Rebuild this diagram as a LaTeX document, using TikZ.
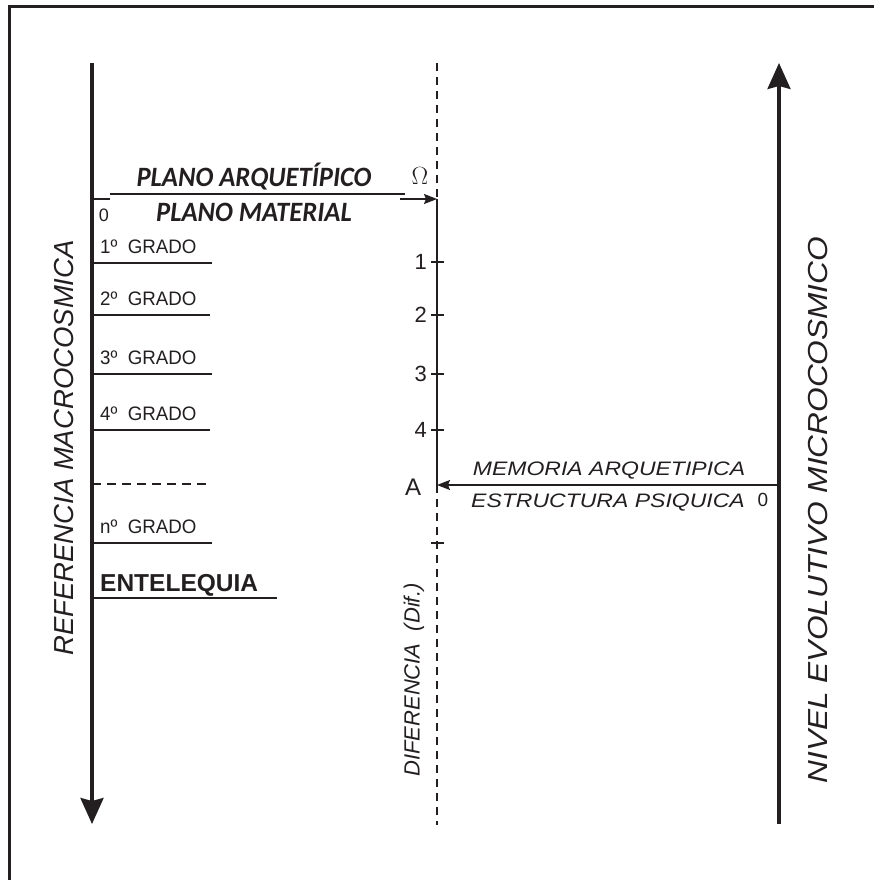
\documentclass[tikz,border=0pt]{standalone}
\usepackage{fontspec}
\usepackage{graphicx}
\setmainfont{Liberation Sans}
\newfontfamily\calib{Carlito}
\usetikzlibrary{arrows.meta}
\definecolor{ink}{HTML}{231F20}
\tikzset{
  lbl/.style={inner sep=0pt, text=ink},
  fs/.style={font=\fontsize{#1}{#1}\selectfont},
  axis/.style={draw=ink, line width=3.2pt},
  bigtip/.style={-{Stealth[length=26pt,width=23pt,inset=3pt]}},
  thin/.style={draw=ink, line width=1.6pt},
  grade/.style={draw=ink, line width=2pt},
  smalltip/.style={-{Stealth[length=13pt,width=10pt,inset=2pt]}},
  dashv/.style={draw=ink, line width=1.5pt, dash pattern=on 8pt off 6pt},
}
\begin{document}
\begin{tikzpicture}[x=1pt,y=-1pt]
\useasboundingbox (0,0) rectangle (874,880);
% frame
\draw[draw=ink, line width=3pt] (9,880) -- (9,7) -- (874,7);

% coordinates
\coordinate (Ltop) at (92,63);
\coordinate (Lbot) at (92,824);
\coordinate (Rbot) at (779,824);
\coordinate (Rtop) at (779,63);
\coordinate (Mtop) at (437,63);
\coordinate (Omg) at (437,199);
\coordinate (Apt) at (437,485);
\coordinate (Mbot) at (437,825);
\coordinate (Ar) at (779,485);

% main axes
\draw[axis, bigtip] (Ltop) -- (Lbot);
\draw[axis, bigtip] (Rbot) -- (Rtop);

% middle line
\draw[dashv] (Mtop) -- (Omg);
\draw[thin] (Omg) -- (Apt);
\draw[dashv] (Apt) -- (Mbot);

% ticks
\foreach \n/\y in {1/262,2/315,3/374,4/430}{
  \coordinate (t\n a) at (431,\y);
  \coordinate (t\n b) at (444,\y);
  \draw[thin] (t\n a) -- (t\n b);
  \node[lbl, fs=22, anchor=east] (num\n) at (427,\y) {\n};
}
\coordinate (t5a) at (431,543);
\coordinate (t5b) at (444,543);
\draw[thin] (t5a) -- (t5b);

% top plane line
\coordinate (p0a) at (92,199);
\coordinate (p0b) at (110,199);
\coordinate (p1a) at (110,194);
\coordinate (p1b) at (405,194);
\coordinate (p2a) at (400,199);
\draw[thin] (p0a) -- (p0b);
\draw[thin] (p1a) -- (p1b);
\draw[thin, smalltip] (p2a) -- (Omg);
\node[lbl, font=\calib\bfseries\itshape\fontsize{28}{28}\selectfont] (arq) at (254,177) {\scalebox{0.95}[1]{PLANO ARQUETÍPICO}};
\node[lbl, font=\calib\bfseries\itshape\fontsize{28}{28}\selectfont] (mat) at (254,212) {\scalebox{0.95}[1]{PLANO MATERIAL}};
\node[lbl, font=\rmfamily\fontsize{27}{27}\selectfont] (omega) at (420,176) {$\Omega$};
\node[lbl, fs=18] (zero1) at (104,215) {0};

% A arrow
\draw[thin, smalltip] (Ar) -- (Apt);
\node[lbl, fs=24] (A) at (413,487) {A};
\node[lbl, font=\itshape\fontsize{19.5}{19.5}\selectfont] (mem) at (609,471) {\scalebox{1.18}[1]{MEMORIA ARQUETIPICA}};
\node[lbl, font=\itshape\fontsize{19.5}{19.5}\selectfont] (est) at (608,503) {\scalebox{1.18}[1]{ESTRUCTURA PSIQUICA}};
\node[lbl, fs=19] (zero2) at (763,500) {0};

% grades
\foreach \n/\y/\e/\t in {g1/263/212/1º,g2/315/210/2º,g3/374/212/3º,g4/430/210/4º,gn/543/212/nº}{
  \coordinate (\n a) at (92,\y);
  \coordinate (\n b) at (\e,\y);
  \draw[grade] (\n a) -- (\n b);
  \node[lbl, fs=19.5, anchor=base west] (\n l) at (100,\y-10) {\scalebox{0.96}[1]{\t\ \ GRADO}};
}
\coordinate (da) at (92,484);
\coordinate (db) at (210,484);
\draw[grade, dash pattern=on 9pt off 6pt] (da) -- (db);
\coordinate (ea) at (92,598);
\coordinate (eb) at (277,598);
\draw[grade] (ea) -- (eb);
\node[lbl, font=\bfseries\fontsize{24.5}{24.5}\selectfont, anchor=base west] (ent) at (100,591) {ENTELEQUIA};

% rotated labels
\node[lbl, rotate=90, font=\itshape\fontsize{27.5}{27.5}\selectfont] (ref) at (64,448) {REFERENCIA MACROCOSMICA};
\node[lbl, rotate=90, font=\itshape\fontsize{27.5}{27.5}\selectfont] (niv) at (818,510) {\scalebox{1.15}[1]{NIVEL EVOLUTIVO MICROCOSMICO}};
\node[lbl, rotate=90, font=\itshape\fontsize{22}{22}\selectfont] (dif) at (414,680) {DIFERENCIA\ \ (Dif.)};
\end{tikzpicture}
\end{document}
